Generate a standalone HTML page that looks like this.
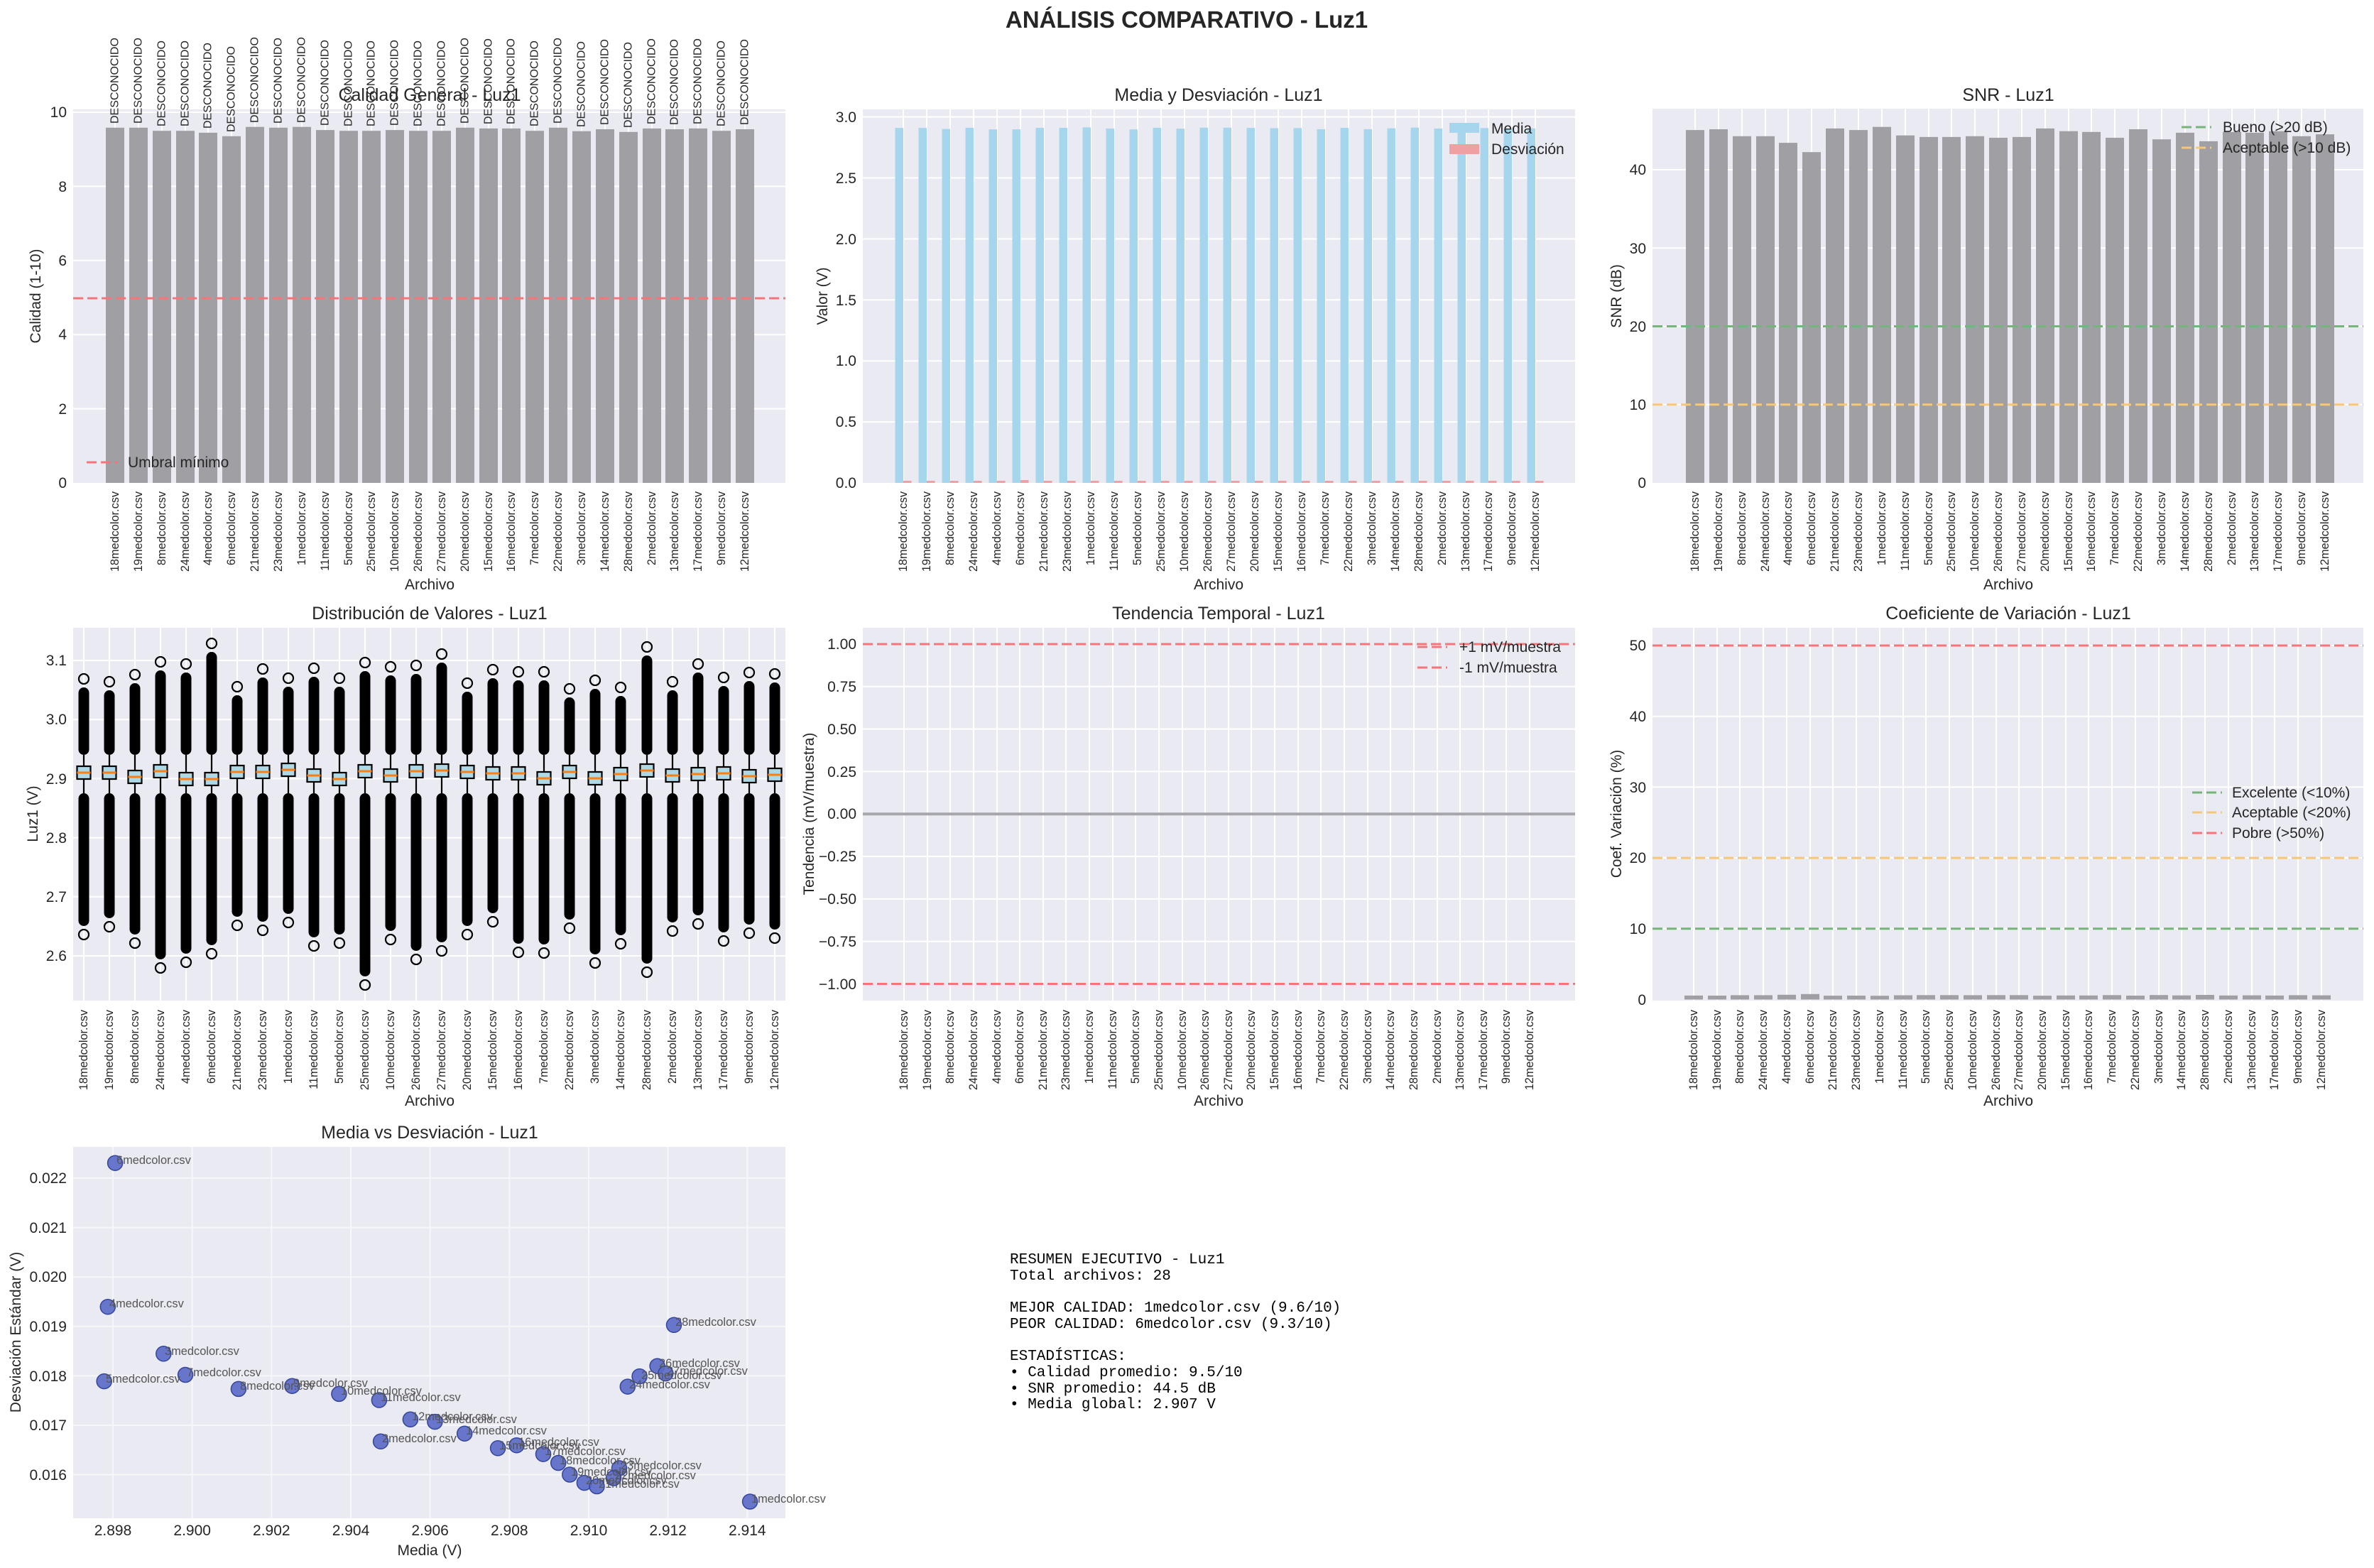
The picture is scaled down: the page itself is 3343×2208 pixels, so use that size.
<!DOCTYPE html>
<html><head><meta charset="utf-8"><style>
html,body{margin:0;padding:0;background:#fff}
svg{display:block;font-family:"Liberation Sans",Arial,sans-serif;fill:#262626}
.bg{fill:#eaeaf2}
.g{stroke:#fff;stroke-width:2;fill:none}
.tk{font-size:21px}
.xl text{font-size:16.3px}
.xl{text-anchor:end}
.bar{fill:#a0a0a4}
.t{font-size:25px;text-anchor:middle}
.al{font-size:21px;text-anchor:middle}
.lg{font-size:21px}
.fl rect{fill:#000}
.fl circle{fill:none;stroke:#000;stroke-width:2.2}
.fl path{stroke:#000;stroke-width:2.2}
.fl rect.bx{fill:#add8e6;stroke:#000;stroke-width:2.2}
.fl path.md{stroke:#ff7f0e;stroke-width:3}
.sl{font-size:16.4px;fill:#555}
.mono{font-family:"Liberation Mono","DejaVu Sans Mono",monospace;font-size:21px;fill:#000}
</style></head><body>
<svg width="3343" height="2208" viewBox="0 0 3343 2208" xmlns="http://www.w3.org/2000/svg">
<text x="1671" y="39" font-size="33" font-weight="bold" text-anchor="middle">ANÁLISIS COMPARATIVO - Luz1</text>

<!-- ===== Panel A: Calidad ===== -->
<rect class="bg" x="103" y="154" width="1003" height="526"/>
<path class="g" d="M103 575.6H1106M103 471.2H1106M103 366.8H1106M103 262.4H1106M103 158H1106M162 154V680M195 154V680M228 154V680M261 154V680M293 154V680M326 154V680M359 154V680M392 154V680M425 154V680M458 154V680M491 154V680M523 154V680M556 154V680M589 154V680M622 154V680M655 154V680M688 154V680M720 154V680M753 154V680M786 154V680M819 154V680M852 154V680M885 154V680M918 154V680M950 154V680M983 154V680M1016 154V680M1049 154V680"/>
<g class="bar">
<rect x="149" y="179.8" width="26" height="500.2"/><rect x="182" y="179.8" width="26" height="500.2"/><rect x="215" y="184.2" width="26" height="495.8"/><rect x="248" y="184.2" width="26" height="495.8"/><rect x="280" y="186.9" width="26" height="493.1"/><rect x="313" y="191.8" width="26" height="488.2"/><rect x="346" y="178.7" width="26" height="501.3"/><rect x="379" y="179.8" width="26" height="500.2"/><rect x="412" y="178.7" width="26" height="501.3"/><rect x="445" y="183.1" width="26" height="496.9"/><rect x="478" y="184.2" width="26" height="495.8"/><rect x="510" y="184.2" width="26" height="495.8"/><rect x="543" y="183.1" width="26" height="496.9"/><rect x="576" y="184.2" width="26" height="495.8"/><rect x="609" y="184.2" width="26" height="495.8"/><rect x="642" y="179.8" width="26" height="500.2"/><rect x="675" y="180.9" width="26" height="499.1"/><rect x="707" y="180.9" width="26" height="499.1"/><rect x="740" y="184.2" width="26" height="495.8"/><rect x="773" y="179.8" width="26" height="500.2"/><rect x="806" y="184.7" width="26" height="495.3"/><rect x="839" y="182" width="26" height="498"/><rect x="872" y="185.8" width="26" height="494.2"/><rect x="905" y="180.9" width="26" height="499.1"/><rect x="937" y="182" width="26" height="498"/><rect x="970" y="180.9" width="26" height="499.1"/><rect x="1003" y="184.2" width="26" height="495.8"/><rect x="1036" y="182" width="26" height="498"/>
</g>
<line x1="103" y1="420" x2="1106" y2="420" stroke="#f57579" stroke-width="3" stroke-dasharray="14 6"/>
<g font-size="16" dominant-baseline="central">
<text transform="translate(162,174) rotate(-90)">DESCONOCIDO</text><text transform="translate(195,174) rotate(-90)">DESCONOCIDO</text><text transform="translate(228,178) rotate(-90)">DESCONOCIDO</text><text transform="translate(261,178) rotate(-90)">DESCONOCIDO</text><text transform="translate(293,181) rotate(-90)">DESCONOCIDO</text><text transform="translate(326,186) rotate(-90)">DESCONOCIDO</text><text transform="translate(359,173) rotate(-90)">DESCONOCIDO</text><text transform="translate(392,174) rotate(-90)">DESCONOCIDO</text><text transform="translate(425,173) rotate(-90)">DESCONOCIDO</text><text transform="translate(458,177) rotate(-90)">DESCONOCIDO</text><text transform="translate(491,178) rotate(-90)">DESCONOCIDO</text><text transform="translate(523,178) rotate(-90)">DESCONOCIDO</text><text transform="translate(556,177) rotate(-90)">DESCONOCIDO</text><text transform="translate(589,178) rotate(-90)">DESCONOCIDO</text><text transform="translate(622,178) rotate(-90)">DESCONOCIDO</text><text transform="translate(655,174) rotate(-90)">DESCONOCIDO</text><text transform="translate(688,175) rotate(-90)">DESCONOCIDO</text><text transform="translate(720,175) rotate(-90)">DESCONOCIDO</text><text transform="translate(753,178) rotate(-90)">DESCONOCIDO</text><text transform="translate(786,174) rotate(-90)">DESCONOCIDO</text><text transform="translate(819,179) rotate(-90)">DESCONOCIDO</text><text transform="translate(852,176) rotate(-90)">DESCONOCIDO</text><text transform="translate(885,180) rotate(-90)">DESCONOCIDO</text><text transform="translate(918,175) rotate(-90)">DESCONOCIDO</text><text transform="translate(950,176) rotate(-90)">DESCONOCIDO</text><text transform="translate(983,175) rotate(-90)">DESCONOCIDO</text><text transform="translate(1016,178) rotate(-90)">DESCONOCIDO</text><text transform="translate(1049,176) rotate(-90)">DESCONOCIDO</text>
</g>
<text class="t" x="605" y="142">Calidad General - Luz1</text>
<g class="tk" text-anchor="end"><text x="94" y="687">0</text><text x="94" y="583">2</text><text x="94" y="478">4</text><text x="94" y="374">6</text><text x="94" y="270">8</text><text x="94" y="165">10</text></g>
<text class="al" transform="translate(50,417) rotate(-90)" dy="7">Calidad (1-10)</text>
<text class="al" x="605" y="830">Archivo</text>
<line x1="122" y1="651" x2="166" y2="651" stroke="#f57579" stroke-width="3" stroke-dasharray="14 6"/>
<text class="lg" x="180" y="658">Umbral mínimo</text>
<g class="xl" dominant-baseline="central">
<text transform="translate(162,692) rotate(-90)">18medcolor.csv</text><text transform="translate(195,692) rotate(-90)">19medcolor.csv</text><text transform="translate(228,692) rotate(-90)">8medcolor.csv</text><text transform="translate(261,692) rotate(-90)">24medcolor.csv</text><text transform="translate(293,692) rotate(-90)">4medcolor.csv</text><text transform="translate(326,692) rotate(-90)">6medcolor.csv</text><text transform="translate(359,692) rotate(-90)">21medcolor.csv</text><text transform="translate(392,692) rotate(-90)">23medcolor.csv</text><text transform="translate(425,692) rotate(-90)">1medcolor.csv</text><text transform="translate(458,692) rotate(-90)">11medcolor.csv</text><text transform="translate(491,692) rotate(-90)">5medcolor.csv</text><text transform="translate(523,692) rotate(-90)">25medcolor.csv</text><text transform="translate(556,692) rotate(-90)">10medcolor.csv</text><text transform="translate(589,692) rotate(-90)">26medcolor.csv</text><text transform="translate(622,692) rotate(-90)">27medcolor.csv</text><text transform="translate(655,692) rotate(-90)">20medcolor.csv</text><text transform="translate(688,692) rotate(-90)">15medcolor.csv</text><text transform="translate(720,692) rotate(-90)">16medcolor.csv</text><text transform="translate(753,692) rotate(-90)">7medcolor.csv</text><text transform="translate(786,692) rotate(-90)">22medcolor.csv</text><text transform="translate(819,692) rotate(-90)">3medcolor.csv</text><text transform="translate(852,692) rotate(-90)">14medcolor.csv</text><text transform="translate(885,692) rotate(-90)">28medcolor.csv</text><text transform="translate(918,692) rotate(-90)">2medcolor.csv</text><text transform="translate(950,692) rotate(-90)">13medcolor.csv</text><text transform="translate(983,692) rotate(-90)">17medcolor.csv</text><text transform="translate(1016,692) rotate(-90)">9medcolor.csv</text><text transform="translate(1049,692) rotate(-90)">12medcolor.csv</text>
</g>

<!-- ===== Panel B: Media y Desviación ===== -->
<rect class="bg" x="1215" y="154" width="1003" height="526"/>
<path class="g" d="M1215 594.1H2218M1215 508.2H2218M1215 422.3H2218M1215 336.4H2218M1215 250.5H2218M1215 164.6H2218M1272 154V680M1305 154V680M1338 154V680M1371 154V680M1404 154V680M1437 154V680M1470 154V680M1503 154V680M1536 154V680M1569 154V680M1602 154V680M1635 154V680M1668 154V680M1701 154V680M1734 154V680M1767 154V680M1800 154V680M1833 154V680M1866 154V680M1899 154V680M1932 154V680M1965 154V680M1998 154V680M2031 154V680M2064 154V680M2096 154V680M2129 154V680M2162 154V680"/>
<g fill="#a5d6ed">
<rect x="1260.5" y="180.2" width="11.5" height="499.8"/><rect x="1293.5" y="180.2" width="11.5" height="499.8"/><rect x="1326.5" y="181.6" width="11.5" height="498.4"/><rect x="1359.5" y="179.9" width="11.5" height="500.1"/><rect x="1392.5" y="182.2" width="11.5" height="497.8"/><rect x="1425.5" y="182.1" width="11.5" height="497.9"/><rect x="1458.5" y="180.1" width="11.5" height="499.9"/><rect x="1491.5" y="180" width="11.5" height="500"/><rect x="1524.5" y="179.4" width="11.5" height="500.6"/><rect x="1557.5" y="181" width="11.5" height="499"/><rect x="1590.5" y="182.2" width="11.5" height="497.8"/><rect x="1623.5" y="179.9" width="11.5" height="500.1"/><rect x="1656.5" y="181.2" width="11.5" height="498.8"/><rect x="1689.5" y="179.8" width="11.5" height="500.2"/><rect x="1722.5" y="179.8" width="11.5" height="500.2"/><rect x="1755.5" y="180.1" width="11.5" height="499.9"/><rect x="1788.5" y="180.5" width="11.5" height="499.5"/><rect x="1821.5" y="180.4" width="11.5" height="499.6"/><rect x="1854.5" y="181.9" width="11.5" height="498.1"/><rect x="1887.5" y="180" width="11.5" height="500"/><rect x="1920.5" y="181.9" width="11.5" height="498.1"/><rect x="1953.5" y="180.6" width="11.5" height="499.4"/><rect x="1986.5" y="179.7" width="11.5" height="500.3"/><rect x="2019.5" y="181" width="11.5" height="499"/><rect x="2052.5" y="180.8" width="11.5" height="499.2"/><rect x="2084.5" y="180.3" width="11.5" height="499.7"/><rect x="2117.5" y="181.4" width="11.5" height="498.6"/><rect x="2150.5" y="180.9" width="11.5" height="499.1"/>
</g>
<g fill="#eea0a2">
<rect x="1272" y="677" width="11.5" height="3"/><rect x="1305" y="677" width="11.5" height="3"/><rect x="1338" y="677" width="11.5" height="3"/><rect x="1371" y="677" width="11.5" height="3"/><rect x="1404" y="677" width="11.5" height="3"/><rect x="1437" y="676" width="11.5" height="4"/><rect x="1470" y="677" width="11.5" height="3"/><rect x="1503" y="677" width="11.5" height="3"/><rect x="1536" y="677" width="11.5" height="3"/><rect x="1569" y="677" width="11.5" height="3"/><rect x="1602" y="677" width="11.5" height="3"/><rect x="1635" y="677" width="11.5" height="3"/><rect x="1668" y="677" width="11.5" height="3"/><rect x="1701" y="677" width="11.5" height="3"/><rect x="1734" y="677" width="11.5" height="3"/><rect x="1767" y="677" width="11.5" height="3"/><rect x="1800" y="677" width="11.5" height="3"/><rect x="1833" y="677" width="11.5" height="3"/><rect x="1866" y="677" width="11.5" height="3"/><rect x="1899" y="677" width="11.5" height="3"/><rect x="1932" y="677" width="11.5" height="3"/><rect x="1965" y="677" width="11.5" height="3"/><rect x="1998" y="677" width="11.5" height="3"/><rect x="2031" y="677" width="11.5" height="3"/><rect x="2064" y="677" width="11.5" height="3"/><rect x="2096" y="677" width="11.5" height="3"/><rect x="2129" y="677" width="11.5" height="3"/><rect x="2162" y="677" width="11.5" height="3"/>
</g>
<text class="t" x="1716" y="142">Media y Desviación - Luz1</text>
<g class="tk" text-anchor="end"><text x="1206" y="687">0.0</text><text x="1206" y="601">0.5</text><text x="1206" y="515">1.0</text><text x="1206" y="430">1.5</text><text x="1206" y="344">2.0</text><text x="1206" y="258">2.5</text><text x="1206" y="172">3.0</text></g>
<text class="al" transform="translate(1158,417) rotate(-90)" dy="7">Valor (V)</text>
<text class="al" x="1716" y="830">Archivo</text>
<rect x="2041" y="173" width="42" height="14" fill="#a5d6ed"/><text class="lg" x="2100" y="188">Media</text>
<rect x="2041" y="203" width="42" height="14" fill="#eea0a2"/><text class="lg" x="2100" y="217">Desviación</text>
<g class="xl" dominant-baseline="central">
<text transform="translate(1272,692) rotate(-90)">18medcolor.csv</text><text transform="translate(1305,692) rotate(-90)">19medcolor.csv</text><text transform="translate(1338,692) rotate(-90)">8medcolor.csv</text><text transform="translate(1371,692) rotate(-90)">24medcolor.csv</text><text transform="translate(1404,692) rotate(-90)">4medcolor.csv</text><text transform="translate(1437,692) rotate(-90)">6medcolor.csv</text><text transform="translate(1470,692) rotate(-90)">21medcolor.csv</text><text transform="translate(1503,692) rotate(-90)">23medcolor.csv</text><text transform="translate(1536,692) rotate(-90)">1medcolor.csv</text><text transform="translate(1569,692) rotate(-90)">11medcolor.csv</text><text transform="translate(1602,692) rotate(-90)">5medcolor.csv</text><text transform="translate(1635,692) rotate(-90)">25medcolor.csv</text><text transform="translate(1668,692) rotate(-90)">10medcolor.csv</text><text transform="translate(1701,692) rotate(-90)">26medcolor.csv</text><text transform="translate(1734,692) rotate(-90)">27medcolor.csv</text><text transform="translate(1767,692) rotate(-90)">20medcolor.csv</text><text transform="translate(1800,692) rotate(-90)">15medcolor.csv</text><text transform="translate(1833,692) rotate(-90)">16medcolor.csv</text><text transform="translate(1866,692) rotate(-90)">7medcolor.csv</text><text transform="translate(1899,692) rotate(-90)">22medcolor.csv</text><text transform="translate(1932,692) rotate(-90)">3medcolor.csv</text><text transform="translate(1965,692) rotate(-90)">14medcolor.csv</text><text transform="translate(1998,692) rotate(-90)">28medcolor.csv</text><text transform="translate(2031,692) rotate(-90)">2medcolor.csv</text><text transform="translate(2064,692) rotate(-90)">13medcolor.csv</text><text transform="translate(2096,692) rotate(-90)">17medcolor.csv</text><text transform="translate(2129,692) rotate(-90)">9medcolor.csv</text><text transform="translate(2162,692) rotate(-90)">12medcolor.csv</text>
</g>

<!-- ===== Panel C: SNR ===== -->
<rect class="bg" x="2327" y="153" width="1001" height="527"/>
<path class="g" d="M2327 569.75H3328M2327 459.5H3328M2327 349.25H3328M2327 239H3328M2387 153V680M2420 153V680M2453 153V680M2486 153V680M2518 153V680M2551 153V680M2584 153V680M2617 153V680M2650 153V680M2683 153V680M2716 153V680M2748 153V680M2781 153V680M2814 153V680M2847 153V680M2880 153V680M2913 153V680M2945 153V680M2978 153V680M3011 153V680M3044 153V680M3077 153V680M3110 153V680M3143 153V680M3175 153V680M3208 153V680M3241 153V680M3274 153V680"/>
<g class="bar">
<rect x="2374" y="183.1" width="26" height="496.9"/><rect x="2407" y="182" width="26" height="498"/><rect x="2440" y="191.8" width="26" height="488.2"/><rect x="2473" y="191.8" width="26" height="488.2"/><rect x="2505" y="201.1" width="26" height="478.9"/><rect x="2538" y="214.2" width="26" height="465.8"/><rect x="2571" y="180.9" width="26" height="499.1"/><rect x="2604" y="183.1" width="26" height="496.9"/><rect x="2637" y="178.7" width="26" height="501.3"/><rect x="2670" y="190.7" width="26" height="489.3"/><rect x="2703" y="192.9" width="26" height="487.1"/><rect x="2735" y="192.9" width="26" height="487.1"/><rect x="2768" y="191.8" width="26" height="488.2"/><rect x="2801" y="194" width="26" height="486"/><rect x="2834" y="192.9" width="26" height="487.1"/><rect x="2867" y="180.9" width="26" height="499.1"/><rect x="2900" y="184.7" width="26" height="495.3"/><rect x="2932" y="185.8" width="26" height="494.2"/><rect x="2965" y="194" width="26" height="486"/><rect x="2998" y="182" width="26" height="498"/><rect x="3031" y="196.2" width="26" height="483.8"/><rect x="3064" y="186.9" width="26" height="493.1"/><rect x="3097" y="198.9" width="26" height="481.1"/><rect x="3130" y="185.8" width="26" height="494.2"/><rect x="3162" y="186.9" width="26" height="493.1"/><rect x="3195" y="184.7" width="26" height="495.3"/><rect x="3228" y="191.8" width="26" height="488.2"/><rect x="3261" y="189.1" width="26" height="490.9"/>
</g>
<line x1="2327" y1="459.5" x2="3328" y2="459.5" stroke="#75b579" stroke-width="3" stroke-dasharray="14 6"/>
<line x1="2327" y1="569.75" x2="3328" y2="569.75" stroke="#f5c879" stroke-width="3" stroke-dasharray="14 6"/>
<text class="t" x="2828" y="142">SNR - Luz1</text>
<g class="tk" text-anchor="end"><text x="2318" y="687">0</text><text x="2318" y="577">10</text><text x="2318" y="467">20</text><text x="2318" y="357">30</text><text x="2318" y="246">40</text></g>
<text class="al" transform="translate(2276,417) rotate(-90)" dy="7">SNR (dB)</text>
<text class="al" x="2828" y="830">Archivo</text>
<line x1="3072" y1="179" x2="3114" y2="179" stroke="#75b579" stroke-width="3" stroke-dasharray="14 6"/><text class="lg" x="3130" y="186">Bueno (&gt;20 dB)</text>
<line x1="3072" y1="208" x2="3114" y2="208" stroke="#f5c879" stroke-width="3" stroke-dasharray="14 6"/><text class="lg" x="3130" y="215">Aceptable (&gt;10 dB)</text>
<g class="xl" dominant-baseline="central">
<text transform="translate(2387,692) rotate(-90)">18medcolor.csv</text><text transform="translate(2420,692) rotate(-90)">19medcolor.csv</text><text transform="translate(2453,692) rotate(-90)">8medcolor.csv</text><text transform="translate(2486,692) rotate(-90)">24medcolor.csv</text><text transform="translate(2518,692) rotate(-90)">4medcolor.csv</text><text transform="translate(2551,692) rotate(-90)">6medcolor.csv</text><text transform="translate(2584,692) rotate(-90)">21medcolor.csv</text><text transform="translate(2617,692) rotate(-90)">23medcolor.csv</text><text transform="translate(2650,692) rotate(-90)">1medcolor.csv</text><text transform="translate(2683,692) rotate(-90)">11medcolor.csv</text><text transform="translate(2716,692) rotate(-90)">5medcolor.csv</text><text transform="translate(2748,692) rotate(-90)">25medcolor.csv</text><text transform="translate(2781,692) rotate(-90)">10medcolor.csv</text><text transform="translate(2814,692) rotate(-90)">26medcolor.csv</text><text transform="translate(2847,692) rotate(-90)">27medcolor.csv</text><text transform="translate(2880,692) rotate(-90)">20medcolor.csv</text><text transform="translate(2913,692) rotate(-90)">15medcolor.csv</text><text transform="translate(2945,692) rotate(-90)">16medcolor.csv</text><text transform="translate(2978,692) rotate(-90)">7medcolor.csv</text><text transform="translate(3011,692) rotate(-90)">22medcolor.csv</text><text transform="translate(3044,692) rotate(-90)">3medcolor.csv</text><text transform="translate(3077,692) rotate(-90)">14medcolor.csv</text><text transform="translate(3110,692) rotate(-90)">28medcolor.csv</text><text transform="translate(3143,692) rotate(-90)">2medcolor.csv</text><text transform="translate(3175,692) rotate(-90)">13medcolor.csv</text><text transform="translate(3208,692) rotate(-90)">17medcolor.csv</text><text transform="translate(3241,692) rotate(-90)">9medcolor.csv</text><text transform="translate(3274,692) rotate(-90)">12medcolor.csv</text>
</g>

<!-- ===== Panel D: Boxplot ===== -->
<rect class="bg" x="103" y="884" width="1003" height="525"/>
<path class="g" d="M103 1346H1106M103 1262.8H1106M103 1179.6H1106M103 1096.4H1106M103 1013.2H1106M103 930H1106M118 884V1409M154 884V1409M190 884V1409M226 884V1409M262 884V1409M298 884V1409M334 884V1409M370 884V1409M406 884V1409M442 884V1409M478 884V1409M514 884V1409M550 884V1409M586 884V1409M622 884V1409M658 884V1409M694 884V1409M730 884V1409M766 884V1409M802 884V1409M838 884V1409M874 884V1409M911 884V1409M947 884V1409M983 884V1409M1019 884V1409M1055 884V1409M1091 884V1409"/>
<g class="fl">
<g transform="translate(118,0)"><path d="M0 1063V1079M0 1097V1117"/><rect x="-7.5" y="968" width="15" height="95" rx="7.5"/><rect x="-7.5" y="1117" width="15" height="187" rx="7.5"/><circle cy="956" r="7"/><circle cy="1316" r="7"/><rect class="bx" x="-9.5" y="1079" width="19" height="18"/><path class="md" d="M-9.5 1088H9.5"/></g>
<g transform="translate(154,0)"><path d="M0 1063V1079M0 1097V1117"/><rect x="-7.5" y="972" width="15" height="91" rx="7.5"/><rect x="-7.5" y="1117" width="15" height="176" rx="7.5"/><circle cy="960" r="7"/><circle cy="1305" r="7"/><rect class="bx" x="-9.5" y="1079" width="19" height="18"/><path class="md" d="M-9.5 1088H9.5"/></g>
<g transform="translate(190,0)"><path d="M0 1063V1085M0 1103V1117"/><rect x="-7.5" y="962" width="15" height="101" rx="7.5"/><rect x="-7.5" y="1117" width="15" height="199" rx="7.5"/><circle cy="950" r="7"/><circle cy="1328" r="7"/><rect class="bx" x="-9.5" y="1085" width="19" height="18"/><path class="md" d="M-9.5 1094H9.5"/></g>
<g transform="translate(226,0)"><path d="M0 1063V1077M0 1095V1117"/><rect x="-7.5" y="944" width="15" height="119" rx="7.5"/><rect x="-7.5" y="1117" width="15" height="234" rx="7.5"/><circle cy="932" r="7"/><circle cy="1363" r="7"/><rect class="bx" x="-9.5" y="1077" width="19" height="18"/><path class="md" d="M-9.5 1086H9.5"/></g>
<g transform="translate(262,0)"><path d="M0 1063V1088M0 1106V1117"/><rect x="-7.5" y="947" width="15" height="116" rx="7.5"/><rect x="-7.5" y="1117" width="15" height="226" rx="7.5"/><circle cy="935" r="7"/><circle cy="1355" r="7"/><rect class="bx" x="-9.5" y="1088" width="19" height="18"/><path class="md" d="M-9.5 1097H9.5"/></g>
<g transform="translate(298,0)"><path d="M0 1063V1088M0 1106V1117"/><rect x="-7.5" y="918" width="15" height="145" rx="7.5"/><rect x="-7.5" y="1117" width="15" height="214" rx="7.5"/><circle cy="906" r="7"/><circle cy="1343" r="7"/><rect class="bx" x="-9.5" y="1088" width="19" height="18"/><path class="md" d="M-9.5 1097H9.5"/></g>
<g transform="translate(334,0)"><path d="M0 1063V1078M0 1096V1117"/><rect x="-7.5" y="979" width="15" height="84" rx="7.5"/><rect x="-7.5" y="1117" width="15" height="174" rx="7.5"/><circle cy="967" r="7"/><circle cy="1303" r="7"/><rect class="bx" x="-9.5" y="1078" width="19" height="18"/><path class="md" d="M-9.5 1087H9.5"/></g>
<g transform="translate(370,0)"><path d="M0 1063V1078M0 1096V1117"/><rect x="-7.5" y="954" width="15" height="109" rx="7.5"/><rect x="-7.5" y="1117" width="15" height="181" rx="7.5"/><circle cy="942" r="7"/><circle cy="1310" r="7"/><rect class="bx" x="-9.5" y="1078" width="19" height="18"/><path class="md" d="M-9.5 1087H9.5"/></g>
<g transform="translate(406,0)"><path d="M0 1063V1075M0 1093V1117"/><rect x="-7.5" y="967" width="15" height="96" rx="7.5"/><rect x="-7.5" y="1117" width="15" height="170" rx="7.5"/><circle cy="955" r="7"/><circle cy="1299" r="7"/><rect class="bx" x="-9.5" y="1075" width="19" height="18"/><path class="md" d="M-9.5 1084H9.5"/></g>
<g transform="translate(442,0)"><path d="M0 1063V1083M0 1101V1117"/><rect x="-7.5" y="953" width="15" height="110" rx="7.5"/><rect x="-7.5" y="1117" width="15" height="203" rx="7.5"/><circle cy="941" r="7"/><circle cy="1332" r="7"/><rect class="bx" x="-9.5" y="1083" width="19" height="18"/><path class="md" d="M-9.5 1092H9.5"/></g>
<g transform="translate(478,0)"><path d="M0 1063V1088M0 1106V1117"/><rect x="-7.5" y="967" width="15" height="96" rx="7.5"/><rect x="-7.5" y="1117" width="15" height="199" rx="7.5"/><circle cy="955" r="7"/><circle cy="1328" r="7"/><rect class="bx" x="-9.5" y="1088" width="19" height="18"/><path class="md" d="M-9.5 1097H9.5"/></g>
<g transform="translate(514,0)"><path d="M0 1063V1077M0 1095V1117"/><rect x="-7.5" y="945" width="15" height="118" rx="7.5"/><rect x="-7.5" y="1117" width="15" height="258" rx="7.5"/><circle cy="933" r="7"/><circle cy="1387" r="7"/><rect class="bx" x="-9.5" y="1077" width="19" height="18"/><path class="md" d="M-9.5 1086H9.5"/></g>
<g transform="translate(550,0)"><path d="M0 1063V1083M0 1101V1117"/><rect x="-7.5" y="951" width="15" height="112" rx="7.5"/><rect x="-7.5" y="1117" width="15" height="194" rx="7.5"/><circle cy="939" r="7"/><circle cy="1323" r="7"/><rect class="bx" x="-9.5" y="1083" width="19" height="18"/><path class="md" d="M-9.5 1092H9.5"/></g>
<g transform="translate(586,0)"><path d="M0 1063V1077M0 1095V1117"/><rect x="-7.5" y="949" width="15" height="114" rx="7.5"/><rect x="-7.5" y="1117" width="15" height="222" rx="7.5"/><circle cy="937" r="7"/><circle cy="1351" r="7"/><rect class="bx" x="-9.5" y="1077" width="19" height="18"/><path class="md" d="M-9.5 1086H9.5"/></g>
<g transform="translate(622,0)"><path d="M0 1063V1076M0 1094V1117"/><rect x="-7.5" y="933" width="15" height="130" rx="7.5"/><rect x="-7.5" y="1117" width="15" height="210" rx="7.5"/><circle cy="921" r="7"/><circle cy="1339" r="7"/><rect class="bx" x="-9.5" y="1076" width="19" height="18"/><path class="md" d="M-9.5 1085H9.5"/></g>
<g transform="translate(658,0)"><path d="M0 1063V1078M0 1096V1117"/><rect x="-7.5" y="974" width="15" height="89" rx="7.5"/><rect x="-7.5" y="1117" width="15" height="187" rx="7.5"/><circle cy="962" r="7"/><circle cy="1316" r="7"/><rect class="bx" x="-9.5" y="1078" width="19" height="18"/><path class="md" d="M-9.5 1087H9.5"/></g>
<g transform="translate(694,0)"><path d="M0 1063V1080M0 1098V1117"/><rect x="-7.5" y="955" width="15" height="108" rx="7.5"/><rect x="-7.5" y="1117" width="15" height="169" rx="7.5"/><circle cy="943" r="7"/><circle cy="1298" r="7"/><rect class="bx" x="-9.5" y="1080" width="19" height="18"/><path class="md" d="M-9.5 1089H9.5"/></g>
<g transform="translate(730,0)"><path d="M0 1063V1080M0 1098V1117"/><rect x="-7.5" y="958" width="15" height="105" rx="7.5"/><rect x="-7.5" y="1117" width="15" height="212" rx="7.5"/><circle cy="946" r="7"/><circle cy="1341" r="7"/><rect class="bx" x="-9.5" y="1080" width="19" height="18"/><path class="md" d="M-9.5 1089H9.5"/></g>
<g transform="translate(766,0)"><path d="M0 1063V1087M0 1105V1117"/><rect x="-7.5" y="958" width="15" height="105" rx="7.5"/><rect x="-7.5" y="1117" width="15" height="213" rx="7.5"/><circle cy="946" r="7"/><circle cy="1342" r="7"/><rect class="bx" x="-9.5" y="1087" width="19" height="18"/><path class="md" d="M-9.5 1096H9.5"/></g>
<g transform="translate(802,0)"><path d="M0 1063V1078M0 1096V1117"/><rect x="-7.5" y="982" width="15" height="81" rx="7.5"/><rect x="-7.5" y="1117" width="15" height="178" rx="7.5"/><circle cy="970" r="7"/><circle cy="1307" r="7"/><rect class="bx" x="-9.5" y="1078" width="19" height="18"/><path class="md" d="M-9.5 1087H9.5"/></g>
<g transform="translate(838,0)"><path d="M0 1063V1087M0 1105V1117"/><rect x="-7.5" y="970" width="15" height="93" rx="7.5"/><rect x="-7.5" y="1117" width="15" height="227" rx="7.5"/><circle cy="958" r="7"/><circle cy="1356" r="7"/><rect class="bx" x="-9.5" y="1087" width="19" height="18"/><path class="md" d="M-9.5 1096H9.5"/></g>
<g transform="translate(874,0)"><path d="M0 1063V1081M0 1099V1117"/><rect x="-7.5" y="980" width="15" height="83" rx="7.5"/><rect x="-7.5" y="1117" width="15" height="200" rx="7.5"/><circle cy="968" r="7"/><circle cy="1329" r="7"/><rect class="bx" x="-9.5" y="1081" width="19" height="18"/><path class="md" d="M-9.5 1090H9.5"/></g>
<g transform="translate(911,0)"><path d="M0 1063V1076M0 1094V1117"/><rect x="-7.5" y="923" width="15" height="140" rx="7.5"/><rect x="-7.5" y="1117" width="15" height="240" rx="7.5"/><circle cy="911" r="7"/><circle cy="1369" r="7"/><rect class="bx" x="-9.5" y="1076" width="19" height="18"/><path class="md" d="M-9.5 1085H9.5"/></g>
<g transform="translate(947,0)"><path d="M0 1063V1083M0 1101V1117"/><rect x="-7.5" y="972" width="15" height="91" rx="7.5"/><rect x="-7.5" y="1117" width="15" height="182" rx="7.5"/><circle cy="960" r="7"/><circle cy="1311" r="7"/><rect class="bx" x="-9.5" y="1083" width="19" height="18"/><path class="md" d="M-9.5 1092H9.5"/></g>
<g transform="translate(983,0)"><path d="M0 1063V1081M0 1099V1117"/><rect x="-7.5" y="947" width="15" height="116" rx="7.5"/><rect x="-7.5" y="1117" width="15" height="172" rx="7.5"/><circle cy="935" r="7"/><circle cy="1301" r="7"/><rect class="bx" x="-9.5" y="1081" width="19" height="18"/><path class="md" d="M-9.5 1090H9.5"/></g>
<g transform="translate(1019,0)"><path d="M0 1063V1080M0 1098V1117"/><rect x="-7.5" y="966" width="15" height="97" rx="7.5"/><rect x="-7.5" y="1117" width="15" height="196" rx="7.5"/><circle cy="954" r="7"/><circle cy="1325" r="7"/><rect class="bx" x="-9.5" y="1080" width="19" height="18"/><path class="md" d="M-9.5 1089H9.5"/></g>
<g transform="translate(1055,0)"><path d="M0 1063V1084M0 1102V1117"/><rect x="-7.5" y="959" width="15" height="104" rx="7.5"/><rect x="-7.5" y="1117" width="15" height="185" rx="7.5"/><circle cy="947" r="7"/><circle cy="1314" r="7"/><rect class="bx" x="-9.5" y="1084" width="19" height="18"/><path class="md" d="M-9.5 1093H9.5"/></g>
<g transform="translate(1091,0)"><path d="M0 1063V1082M0 1100V1117"/><rect x="-7.5" y="961" width="15" height="102" rx="7.5"/><rect x="-7.5" y="1117" width="15" height="192" rx="7.5"/><circle cy="949" r="7"/><circle cy="1321" r="7"/><rect class="bx" x="-9.5" y="1082" width="19" height="18"/><path class="md" d="M-9.5 1091H9.5"/></g>
</g>
<text class="t" x="605" y="872">Distribución de Valores - Luz1</text>
<g class="tk" text-anchor="end"><text x="94" y="1353">2.6</text><text x="94" y="1270">2.7</text><text x="94" y="1187">2.8</text><text x="94" y="1104">2.9</text><text x="94" y="1020">3.0</text><text x="94" y="937">3.1</text></g>
<text class="al" transform="translate(46,1146) rotate(-90)" dy="7">Luz1 (V)</text>
<g class="xl" dominant-baseline="central">
<text transform="translate(118,1422) rotate(-90)">18medcolor.csv</text><text transform="translate(154,1422) rotate(-90)">19medcolor.csv</text><text transform="translate(190,1422) rotate(-90)">8medcolor.csv</text><text transform="translate(226,1422) rotate(-90)">24medcolor.csv</text><text transform="translate(262,1422) rotate(-90)">4medcolor.csv</text><text transform="translate(298,1422) rotate(-90)">6medcolor.csv</text><text transform="translate(334,1422) rotate(-90)">21medcolor.csv</text><text transform="translate(370,1422) rotate(-90)">23medcolor.csv</text><text transform="translate(406,1422) rotate(-90)">1medcolor.csv</text><text transform="translate(442,1422) rotate(-90)">11medcolor.csv</text><text transform="translate(478,1422) rotate(-90)">5medcolor.csv</text><text transform="translate(514,1422) rotate(-90)">25medcolor.csv</text><text transform="translate(550,1422) rotate(-90)">10medcolor.csv</text><text transform="translate(586,1422) rotate(-90)">26medcolor.csv</text><text transform="translate(622,1422) rotate(-90)">27medcolor.csv</text><text transform="translate(658,1422) rotate(-90)">20medcolor.csv</text><text transform="translate(694,1422) rotate(-90)">15medcolor.csv</text><text transform="translate(730,1422) rotate(-90)">16medcolor.csv</text><text transform="translate(766,1422) rotate(-90)">7medcolor.csv</text><text transform="translate(802,1422) rotate(-90)">22medcolor.csv</text><text transform="translate(838,1422) rotate(-90)">3medcolor.csv</text><text transform="translate(874,1422) rotate(-90)">14medcolor.csv</text><text transform="translate(911,1422) rotate(-90)">28medcolor.csv</text><text transform="translate(947,1422) rotate(-90)">2medcolor.csv</text><text transform="translate(983,1422) rotate(-90)">13medcolor.csv</text><text transform="translate(1019,1422) rotate(-90)">17medcolor.csv</text><text transform="translate(1055,1422) rotate(-90)">9medcolor.csv</text><text transform="translate(1091,1422) rotate(-90)">12medcolor.csv</text>
</g>
<text class="al" x="605" y="1557">Archivo</text>

<!-- ===== Panel E: Tendencia ===== -->
<rect class="bg" x="1215" y="884" width="1003" height="525"/>
<path class="g" d="M1215 966.8H2218M1215 1026.6H2218M1215 1086.4H2218M1215 1206H2218M1215 1265.9H2218M1215 1325.7H2218M1273 884V1409M1306 884V1409M1338 884V1409M1371 884V1409M1404 884V1409M1436 884V1409M1469 884V1409M1501 884V1409M1534 884V1409M1567 884V1409M1599 884V1409M1632 884V1409M1665 884V1409M1697 884V1409M1730 884V1409M1762 884V1409M1795 884V1409M1828 884V1409M1860 884V1409M1893 884V1409M1926 884V1409M1958 884V1409M1991 884V1409M2024 884V1409M2056 884V1409M2089 884V1409M2121 884V1409M2154 884V1409"/>
<line x1="1215" y1="1146.2" x2="2218" y2="1146.2" stroke="#a6a6ac" stroke-width="4"/>
<line x1="1215" y1="907" x2="2218" y2="907" stroke="#f57579" stroke-width="3" stroke-dasharray="14 6"/>
<line x1="1215" y1="1385.5" x2="2218" y2="1385.5" stroke="#f57579" stroke-width="3" stroke-dasharray="14 6"/>
<text class="t" x="1716" y="872">Tendencia Temporal - Luz1</text>
<g class="tk" text-anchor="end"><text x="1206" y="914">1.00</text><text x="1206" y="974">0.75</text><text x="1206" y="1034">0.50</text><text x="1206" y="1094">0.25</text><text x="1206" y="1153">0.00</text><text x="1206" y="1213">−0.25</text><text x="1206" y="1273">−0.50</text><text x="1206" y="1333">−0.75</text><text x="1206" y="1393">−1.00</text></g>
<text class="al" transform="translate(1139,1146) rotate(-90)" dy="7">Tendencia (mV/muestra)</text>
<line x1="1996" y1="911" x2="2038" y2="911" stroke="#f57579" stroke-width="3" stroke-dasharray="14 6"/><text class="lg" x="2055" y="918">+1 mV/muestra</text>
<line x1="1996" y1="940" x2="2038" y2="940" stroke="#f57579" stroke-width="3" stroke-dasharray="14 6"/><text class="lg" x="2055" y="947">-1 mV/muestra</text>
<g class="xl" dominant-baseline="central">
<text transform="translate(1273,1422) rotate(-90)">18medcolor.csv</text><text transform="translate(1306,1422) rotate(-90)">19medcolor.csv</text><text transform="translate(1338,1422) rotate(-90)">8medcolor.csv</text><text transform="translate(1371,1422) rotate(-90)">24medcolor.csv</text><text transform="translate(1404,1422) rotate(-90)">4medcolor.csv</text><text transform="translate(1436,1422) rotate(-90)">6medcolor.csv</text><text transform="translate(1469,1422) rotate(-90)">21medcolor.csv</text><text transform="translate(1501,1422) rotate(-90)">23medcolor.csv</text><text transform="translate(1534,1422) rotate(-90)">1medcolor.csv</text><text transform="translate(1567,1422) rotate(-90)">11medcolor.csv</text><text transform="translate(1599,1422) rotate(-90)">5medcolor.csv</text><text transform="translate(1632,1422) rotate(-90)">25medcolor.csv</text><text transform="translate(1665,1422) rotate(-90)">10medcolor.csv</text><text transform="translate(1697,1422) rotate(-90)">26medcolor.csv</text><text transform="translate(1730,1422) rotate(-90)">27medcolor.csv</text><text transform="translate(1762,1422) rotate(-90)">20medcolor.csv</text><text transform="translate(1795,1422) rotate(-90)">15medcolor.csv</text><text transform="translate(1828,1422) rotate(-90)">16medcolor.csv</text><text transform="translate(1860,1422) rotate(-90)">7medcolor.csv</text><text transform="translate(1893,1422) rotate(-90)">22medcolor.csv</text><text transform="translate(1926,1422) rotate(-90)">3medcolor.csv</text><text transform="translate(1958,1422) rotate(-90)">14medcolor.csv</text><text transform="translate(1991,1422) rotate(-90)">28medcolor.csv</text><text transform="translate(2024,1422) rotate(-90)">2medcolor.csv</text><text transform="translate(2056,1422) rotate(-90)">13medcolor.csv</text><text transform="translate(2089,1422) rotate(-90)">17medcolor.csv</text><text transform="translate(2121,1422) rotate(-90)">9medcolor.csv</text><text transform="translate(2154,1422) rotate(-90)">12medcolor.csv</text>
</g>
<text class="al" x="1716" y="1557">Archivo</text>

<!-- ===== Panel F: CV ===== -->
<rect class="bg" x="2327" y="884" width="1001" height="525"/>
<path class="g" d="M2327 1307.8H3328M2327 1208.1H3328M2327 1108.4H3328M2327 1008.7H3328M2327 909H3328M2385 884V1409M2418 884V1409M2450 884V1409M2483 884V1409M2516 884V1409M2549 884V1409M2581 884V1409M2614 884V1409M2647 884V1409M2680 884V1409M2712 884V1409M2745 884V1409M2778 884V1409M2811 884V1409M2843 884V1409M2876 884V1409M2909 884V1409M2941 884V1409M2974 884V1409M3007 884V1409M3040 884V1409M3072 884V1409M3105 884V1409M3138 884V1409M3171 884V1409M3203 884V1409M3236 884V1409M3269 884V1409"/>
<g class="bar">
<rect x="2372" y="1401.9" width="26" height="5.6"/><rect x="2405" y="1402" width="26" height="5.5"/><rect x="2437" y="1401.4" width="26" height="6.1"/><rect x="2470" y="1401.4" width="26" height="6.1"/><rect x="2503" y="1400.8" width="26" height="6.7"/><rect x="2536" y="1399.8" width="26" height="7.7"/><rect x="2568" y="1402.1" width="26" height="5.4"/><rect x="2601" y="1402" width="26" height="5.5"/><rect x="2634" y="1402.2" width="26" height="5.3"/><rect x="2667" y="1401.5" width="26" height="6"/><rect x="2699" y="1401.3" width="26" height="6.2"/><rect x="2732" y="1401.3" width="26" height="6.2"/><rect x="2765" y="1401.4" width="26" height="6.1"/><rect x="2798" y="1401.3" width="26" height="6.2"/><rect x="2830" y="1401.3" width="26" height="6.2"/><rect x="2863" y="1402.1" width="26" height="5.4"/><rect x="2896" y="1401.8" width="26" height="5.7"/><rect x="2928" y="1401.8" width="26" height="5.7"/><rect x="2961" y="1401.3" width="26" height="6.2"/><rect x="2994" y="1402" width="26" height="5.5"/><rect x="3027" y="1401.2" width="26" height="6.3"/><rect x="3059" y="1401.7" width="26" height="5.8"/><rect x="3092" y="1401" width="26" height="6.5"/><rect x="3125" y="1401.8" width="26" height="5.7"/><rect x="3158" y="1401.6" width="26" height="5.9"/><rect x="3190" y="1401.9" width="26" height="5.6"/><rect x="3223" y="1401.4" width="26" height="6.1"/><rect x="3256" y="1401.6" width="26" height="5.9"/>
</g>
<line x1="2327" y1="909" x2="3328" y2="909" stroke="#f57579" stroke-width="3" stroke-dasharray="14 6"/>
<line x1="2327" y1="1208.1" x2="3328" y2="1208.1" stroke="#f5c879" stroke-width="3" stroke-dasharray="14 6"/>
<line x1="2327" y1="1307.8" x2="3328" y2="1307.8" stroke="#75b579" stroke-width="3" stroke-dasharray="14 6"/>
<text class="t" x="2828" y="872">Coeficiente de Variación - Luz1</text>
<g class="tk" text-anchor="end"><text x="2318" y="1415">0</text><text x="2318" y="1315">10</text><text x="2318" y="1215">20</text><text x="2318" y="1116">30</text><text x="2318" y="1016">40</text><text x="2318" y="916">50</text></g>
<text class="al" transform="translate(2276,1146) rotate(-90)" dy="7">Coef. Variación (%)</text>
<line x1="3087" y1="1116" x2="3129" y2="1116" stroke="#75b579" stroke-width="3" stroke-dasharray="14 6"/><text class="lg" x="3143" y="1123">Excelente (&lt;10%)</text>
<line x1="3087" y1="1144" x2="3129" y2="1144" stroke="#f5c879" stroke-width="3" stroke-dasharray="14 6"/><text class="lg" x="3143" y="1151">Aceptable (&lt;20%)</text>
<line x1="3087" y1="1173" x2="3129" y2="1173" stroke="#f57579" stroke-width="3" stroke-dasharray="14 6"/><text class="lg" x="3143" y="1180">Pobre (&gt;50%)</text>
<g class="xl" dominant-baseline="central">
<text transform="translate(2385,1422) rotate(-90)">18medcolor.csv</text><text transform="translate(2418,1422) rotate(-90)">19medcolor.csv</text><text transform="translate(2450,1422) rotate(-90)">8medcolor.csv</text><text transform="translate(2483,1422) rotate(-90)">24medcolor.csv</text><text transform="translate(2516,1422) rotate(-90)">4medcolor.csv</text><text transform="translate(2549,1422) rotate(-90)">6medcolor.csv</text><text transform="translate(2581,1422) rotate(-90)">21medcolor.csv</text><text transform="translate(2614,1422) rotate(-90)">23medcolor.csv</text><text transform="translate(2647,1422) rotate(-90)">1medcolor.csv</text><text transform="translate(2680,1422) rotate(-90)">11medcolor.csv</text><text transform="translate(2712,1422) rotate(-90)">5medcolor.csv</text><text transform="translate(2745,1422) rotate(-90)">25medcolor.csv</text><text transform="translate(2778,1422) rotate(-90)">10medcolor.csv</text><text transform="translate(2811,1422) rotate(-90)">26medcolor.csv</text><text transform="translate(2843,1422) rotate(-90)">27medcolor.csv</text><text transform="translate(2876,1422) rotate(-90)">20medcolor.csv</text><text transform="translate(2909,1422) rotate(-90)">15medcolor.csv</text><text transform="translate(2941,1422) rotate(-90)">16medcolor.csv</text><text transform="translate(2974,1422) rotate(-90)">7medcolor.csv</text><text transform="translate(3007,1422) rotate(-90)">22medcolor.csv</text><text transform="translate(3040,1422) rotate(-90)">3medcolor.csv</text><text transform="translate(3072,1422) rotate(-90)">14medcolor.csv</text><text transform="translate(3105,1422) rotate(-90)">28medcolor.csv</text><text transform="translate(3138,1422) rotate(-90)">2medcolor.csv</text><text transform="translate(3171,1422) rotate(-90)">13medcolor.csv</text><text transform="translate(3203,1422) rotate(-90)">17medcolor.csv</text><text transform="translate(3236,1422) rotate(-90)">9medcolor.csv</text><text transform="translate(3269,1422) rotate(-90)">12medcolor.csv</text>
</g>
<text class="al" x="2828" y="1557">Archivo</text>

<!-- ===== Panel G: Scatter ===== -->
<rect class="bg" x="103" y="1615" width="1003" height="523"/>
<path d="M159 1615V2138M270.7 1615V2138M382.3 1615V2138M494 1615V2138M605.6 1615V2138M717.3 1615V2138M829 1615V2138M940.6 1615V2138M1052.3 1615V2138M103 1659H1106M103 1728.6H1106M103 1798.2H1106M103 1867.8H1106M103 1937.4H1106M103 2007H1106M103 2076.6H1106" stroke="#fff" stroke-opacity="0.6" stroke-width="2" fill="none"/>
<g fill="#5b6bc8" fill-opacity="0.92" stroke="#34459e" stroke-width="1.5">
<circle cx="162.1" cy="1637.7" r="10.5"/><circle cx="151.8" cy="1840.2" r="10.5"/><circle cx="949" cy="1865.8" r="10.5"/><circle cx="230.3" cy="1906.3" r="10.5"/><circle cx="925.6" cy="1923.6" r="10.5"/><circle cx="937.3" cy="1934" r="10.5"/><circle cx="900.6" cy="1938.1" r="10.5"/><circle cx="261.1" cy="1936" r="10.5"/><circle cx="146.7" cy="1945.1" r="10.5"/><circle cx="411.4" cy="1951.7" r="10.5"/><circle cx="335.9" cy="1955.9" r="10.5"/><circle cx="883.8" cy="1952.6" r="10.5"/><circle cx="477.4" cy="1962.9" r="10.5"/><circle cx="533.9" cy="1971.6" r="10.5"/><circle cx="577.9" cy="1998.8" r="10.5"/><circle cx="612.4" cy="2002.1" r="10.5"/><circle cx="654.2" cy="2018.7" r="10.5"/><circle cx="536.1" cy="2029.8" r="10.5"/><circle cx="701.1" cy="2039.3" r="10.5"/><circle cx="727.5" cy="2035.2" r="10.5"/><circle cx="765" cy="2047.6" r="10.5"/><circle cx="786.2" cy="2060" r="10.5"/><circle cx="872" cy="2067.4" r="10.5"/><circle cx="802.3" cy="2076.5" r="10.5"/><circle cx="864" cy="2081.5" r="10.5"/><circle cx="822.9" cy="2088.1" r="10.5"/><circle cx="840.5" cy="2093" r="10.5"/><circle cx="1056.1" cy="2114.5" r="10.5"/>
</g>
<g class="sl">
<text x="164" y="1639">6medcolor.csv</text><text x="154" y="1841">4medcolor.csv</text><text x="951" y="1867">28medcolor.csv</text><text x="232" y="1908">3medcolor.csv</text><text x="928" y="1925">26medcolor.csv</text><text x="939" y="1936">27medcolor.csv</text><text x="903" y="1942">25medcolor.csv</text><text x="263" y="1938">7medcolor.csv</text><text x="149" y="1947">5medcolor.csv</text><text x="413" y="1953">9medcolor.csv</text><text x="338" y="1957">8medcolor.csv</text><text x="886" y="1955">24medcolor.csv</text><text x="480" y="1964">10medcolor.csv</text><text x="536" y="1973">11medcolor.csv</text><text x="580" y="2000">12medcolor.csv</text><text x="614" y="2004">13medcolor.csv</text><text x="656" y="2020">14medcolor.csv</text><text x="538" y="2031">2medcolor.csv</text><text x="703" y="2041">15medcolor.csv</text><text x="730" y="2036">16medcolor.csv</text><text x="767" y="2049">17medcolor.csv</text><text x="788" y="2062">18medcolor.csv</text><text x="874" y="2069">23medcolor.csv</text><text x="804" y="2078">19medcolor.csv</text><text x="866" y="2083">22medcolor.csv</text><text x="825" y="2090">20medcolor.csv</text><text x="843" y="2095">21medcolor.csv</text><text x="1058" y="2116">1medcolor.csv</text>
</g>
<text class="t" x="605" y="1603">Media vs Desviación - Luz1</text>
<g class="tk" text-anchor="end"><text x="94" y="1666">0.022</text><text x="94" y="1736">0.021</text><text x="94" y="1805">0.020</text><text x="94" y="1875">0.019</text><text x="94" y="1945">0.018</text><text x="94" y="2014">0.017</text><text x="94" y="2084">0.016</text></g>
<g class="tk" text-anchor="middle"><text x="159" y="2162">2.898</text><text x="270.7" y="2162">2.900</text><text x="382.3" y="2162">2.902</text><text x="494" y="2162">2.904</text><text x="605.6" y="2162">2.906</text><text x="717.3" y="2162">2.908</text><text x="829" y="2162">2.910</text><text x="940.6" y="2162">2.912</text><text x="1052.3" y="2162">2.914</text></g>
<text class="al" transform="translate(22,1876) rotate(-90)" dy="7">Desviación Estándar (V)</text>
<text class="al" x="605" y="2190">Media (V)</text>

<!-- ===== Summary ===== -->
<g class="mono" xml:space="preserve">
<text x="1422" y="1779">RESUMEN EJECUTIVO - Luz1</text>
<text x="1422" y="1802">Total archivos: 28</text>
<text x="1422" y="1847">MEJOR CALIDAD: 1medcolor.csv (9.6/10)</text>
<text x="1422" y="1870">PEOR CALIDAD: 6medcolor.csv (9.3/10)</text>
<text x="1422" y="1915">ESTADÍSTICAS:</text>
<text x="1422" y="1938">• Calidad promedio: 9.5/10</text>
<text x="1422" y="1961">• SNR promedio: 44.5 dB</text>
<text x="1422" y="1983">• Media global: 2.907 V</text>
</g>
</svg>
</body></html>
